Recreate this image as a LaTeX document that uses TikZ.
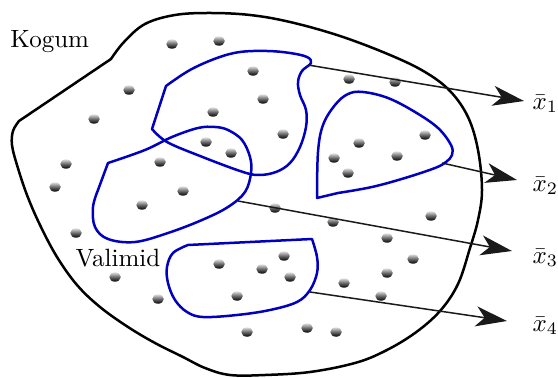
\documentclass[tikz,border=0pt]{standalone}
\usepackage{amsmath}
\usepackage{xcolor}
\usetikzlibrary{arrows.meta}
\definecolor{SetLine}{HTML}{000000}
\definecolor{SampleBlue}{RGB}{0,0,190}
\definecolor{ArrowInk}{HTML}{1A1A1A}

\begin{document}
\begin{tikzpicture}[x=0.4pt,y=-0.4pt,line join=round,kogum/.style={draw=SetLine,line width=1pt},sample/.style={draw=SampleBlue,line width=1pt},dot/.style={top color=black!12,bottom color=black,middle color=black!60},arrow/.style={-{Stealth[length=12.5pt,width=8pt,inset=3.5pt]},draw=ArrowInk,line width=.6pt},lbl/.style={anchor=west,inner sep=0pt}]
\useasboundingbox (0,0) rectangle (558,378);
\draw[kogum] plot[smooth,tension=.6] coordinates {(111,59) (124,42) (145,24) (175,15) (210,13) (250,15) (290,22) (340,36) (390,55) (425,72) (450,91) (468,117) (478,150) (482,190) (478,220) (470,248) (458,284) (440,311) (415,333) (385,351) (355,363) (310,372) (265,375) (230,375) (205,368) (183,357) (155,343) (128,327) (100,307) (77,285) (57,257) (40,225) (27,195) (17,165) (12,145) (13,131) (19,121)} -- cycle;
\draw[sample] plot[smooth,tension=.6] coordinates {(166,86) (190,70) (217,58) (240,52) (267,51) (290,53) (307,57) (311,63) (302,71) (298,82) (300,95) (306,110) (306,127) (300,147) (290,163) (276,172) (258,175) (240,171) (200,156) (167,142) (152,129)} -- cycle;
\draw[sample] plot[smooth,tension=.6] coordinates {(108,163) (145,150) (172,137) (198,128) (215,127) (228,130) (242,140) (250,157) (251,173) (245,192) (228,207) (202,220) (168,233) (135,242) (108,239) (95,227) (93,207) (98,190)} -- cycle;
\draw[sample] plot[smooth,tension=.6] coordinates {(317,198) (318,152) (323,125) (335,105) (348,94) (363,92) (388,98) (415,112) (438,128) (451,145) (452,155) (446,162) (435,168) (405,178) (372,187) (338,193)} -- cycle;
\draw[sample] plot[smooth,tension=.6] coordinates {(312,239) (317,257) (317,273) (310,290) (297,302) (270,310) (237,315) (203,317) (187,312) (175,300) (168,283) (167,267) (173,253) (188,245)} -- cycle;
\foreach \p in {(172,44),(219,41),(253,71),(129,90),(263,99),(94,119),(213,112),(283,134),(206,142),(231,153),(160,162),(66,164),(55,187),(183,191),(142,205),(349,79),(395,82),(359,143),(425,135),(334,158),(397,156),(348,173),(275,208),(333,222),(431,216),(387,238),(76,233),(115,277),(158,299),(219,264),(262,269),(237,296),(247,332),(284,256),(413,259),(290,277),(387,273),(344,283),(381,296),(307,328),(336,332)}
  \shade[dot] \p ellipse [x radius=2.3pt,y radius=1.9pt];
\node[anchor=base west,inner sep=0pt] (kogum) at (10,48) {Kogum};
\node[anchor=base west,inner sep=0pt] (valimid) at (75,267) {Valimid};
\node[lbl] (x1) at (532,104) {$\bar{x}_1$};
\node[lbl] (x2) at (532,186) {$\bar{x}_2$};
\node[lbl] (x3) at (532,258) {$\bar{x}_3$};
\node[lbl] (x4) at (532,326) {$\bar{x}_4$};
\coordinate (s1) at (308,65); \coordinate (t1) at (524,101);
\coordinate (s2) at (442,163); \coordinate (t2) at (517,180);
\coordinate (s3) at (238,201); \coordinate (t3) at (512,251);
\coordinate (s4) at (310,292); \coordinate (t4) at (507,321);
\draw[arrow] (s1) -- (t1);
\draw[arrow] (s2) -- (t2);
\draw[arrow] (s3) -- (t3);
\draw[arrow] (s4) -- (t4);
\end{tikzpicture}
\end{document}
